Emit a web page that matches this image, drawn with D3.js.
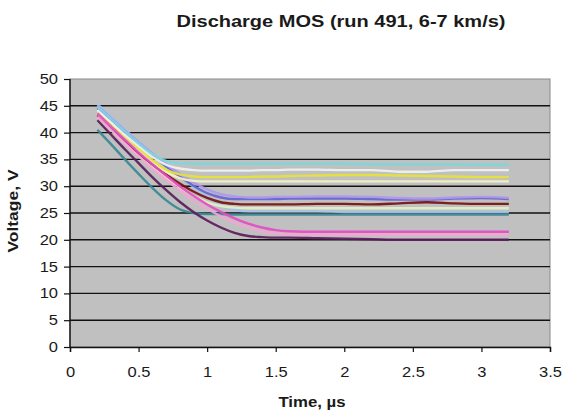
<!DOCTYPE html>
<html>
<head>
<meta charset="utf-8">
<script src="https://cdn.jsdelivr.net/npm/d3@7"></script>
<style>
    body { margin: 0; background: #fff; }
    text { font-family: Arial, "Liberation Sans", sans-serif; fill: #1a1a1a; }
</style>
</head>
<body>
<svg id="chart" width="567" height="412"></svg>
<script>
var chartTitle = "Discharge MOS (run 491, 6-7 km/s)";
var xLabel = "Time, \u00b5s";
var yLabel = "Voltage, V";

var xTicks = [0, 0.5, 1, 1.5, 2, 2.5, 3, 3.5];
var yTicks = [0, 5, 10, 15, 20, 25, 30, 35, 40, 45, 50];

// sample times (µs)
var times = [0.2, 0.3, 0.4, 0.5, 0.6, 0.7, 0.8, 0.9, 1.0, 1.1, 1.2, 1.3, 1.4, 1.5, 1.6, 1.8, 2.0, 2.2, 2.4, 2.6, 2.8, 3.0, 3.2];

// voltages, one array per trace
var teal      = [40.5, 37.8, 35.0, 32.3, 29.7, 27.4, 25.7, 25.0, 24.8, 24.8, 24.7, 24.7, 24.7, 24.7, 24.7, 24.7, 24.7, 24.7, 24.7, 24.7, 24.7, 24.7, 24.7];
var paleBlue  = [45.3, 43.0, 40.6, 38.3, 36.1, 34.0, 31.9, 29.9, 28.0, 26.5, 25.6, 25.3, 25.3, 25.3, 25.3, 25.3, 25.2, 25.2, 25.2, 25.2, 25.2, 25.2, 25.2];
var paleGreen = [43.0, 40.5, 38.1, 35.8, 33.7, 31.7, 29.8, 28.2, 27.0, 26.3, 26.0, 25.9, 25.9, 25.9, 25.9, 25.9, 25.9, 25.9, 25.9, 25.9, 25.9, 25.9, 25.9];
var darkRed   = [43.2, 40.8, 38.5, 36.2, 34.1, 32.2, 30.5, 29.0, 27.8, 27.0, 26.7, 26.6, 26.6, 26.6, 26.6, 26.7, 26.7, 26.6, 26.8, 27.0, 26.8, 26.7, 26.7];
var blue      = [44.6, 42.3, 40.0, 37.8, 35.7, 33.7, 31.8, 30.1, 28.7, 27.9, 27.6, 27.6, 27.6, 27.6, 27.7, 27.7, 27.7, 27.6, 27.5, 27.5, 27.7, 27.8, 27.6];
var lavender  = [45.0, 42.7, 40.4, 38.2, 36.1, 34.1, 32.3, 30.7, 29.4, 28.5, 28.1, 27.9, 27.9, 28.0, 28.0, 28.1, 28.1, 28.0, 27.8, 27.7, 27.9, 28.0, 27.8];
var ltYellow  = [43.6, 41.2, 38.9, 36.6, 34.5, 32.7, 31.5, 31.0, 30.9, 30.9, 30.9, 30.9, 30.9, 30.9, 30.9, 30.9, 30.9, 30.9, 30.9, 30.9, 30.9, 30.9, 30.9];
var yellow    = [44.0, 41.6, 39.3, 37.0, 34.9, 33.1, 32.2, 31.8, 31.7, 31.7, 31.7, 31.7, 31.8, 31.8, 31.9, 32.0, 32.1, 32.1, 32.0, 31.9, 31.8, 31.7, 31.7];
var white     = [44.2, 41.9, 39.6, 37.5, 35.5, 34.0, 33.3, 33.0, 32.9, 32.9, 32.9, 32.9, 33.0, 33.0, 33.1, 33.1, 33.0, 33.0, 32.7, 32.7, 33.0, 33.0, 33.0];
var cyan      = [44.8, 42.5, 40.2, 38.0, 36.0, 34.7, 34.3, 34.2, 34.2, 34.2, 34.2, 34.2, 34.2, 34.2, 34.2, 34.2, 34.2, 34.1, 34.1, 34.1, 34.1, 34.0, 34.0];
var ltPink    = [43.0, 40.5, 38.0, 35.6, 33.3, 31.2, 29.2, 27.4, 25.8, 24.4, 23.2, 22.3, 21.6, 21.2, 21.0, 21.0, 21.0, 21.0, 21.0, 21.0, 21.0, 21.0, 21.0];
var magenta   = [43.6, 41.1, 38.7, 36.3, 34.1, 32.0, 30.0, 28.2, 26.6, 25.2, 24.0, 23.0, 22.3, 21.8, 21.6, 21.5, 21.5, 21.5, 21.5, 21.5, 21.5, 21.5, 21.5];
var darkPurple= [42.3, 39.6, 36.9, 34.3, 31.7, 29.3, 27.1, 25.2, 23.6, 22.3, 21.3, 20.7, 20.5, 20.4, 20.4, 20.3, 20.2, 20.1, 20.0, 20.0, 20.0, 20.0, 20.0];

var seriesValues = [teal, paleBlue, paleGreen, darkRed, blue, lavender, ltYellow, yellow, white, cyan, ltPink, magenta, darkPurple];
var seriesColors = ["#3a8894", "#a4c4ec", "#e2f0c6", "#7a1010", "#6464d4", "#ae98ea", "#f2f2c4", "#e6e23a", "#eef2f0", "#7cd8dc", "#f2a6d4", "#e44cc6", "#5c1c5c"];

var svg = d3.select("#chart");
var plot = { left: 70, right: 550, top: 79, bottom: 347 };
var stretch = 1.18; // the source fonts are wide

var x = d3.scaleLinear().domain([0, 3.5]).range([plot.left, plot.right]);
var y = d3.scaleLinear().domain([0, 50]).range([plot.bottom, plot.top]);

svg.append("rect")
    .attr("x", plot.left).attr("y", plot.top)
    .attr("width", plot.right - plot.left).attr("height", plot.bottom - plot.top)
    .attr("fill", "#c0c0c0")
    .attr("stroke", "#8a8a8a")
    .attr("stroke-width", 1);

// horizontal gridlines
svg.append("g")
    .selectAll("line")
    .data(yTicks.filter(function(d) { return d > 0 && d < 50; }))
    .enter().append("line")
    .attr("x1", plot.left).attr("x2", plot.right)
    .attr("y1", function(d) { return y(d); })
    .attr("y2", function(d) { return y(d); })
    .attr("stroke", "#111")
    .attr("stroke-width", 1.4);

var line = d3.line()
    .x(function(d) { return x(d[0]); })
    .y(function(d) { return y(d[1]); })
    .curve(d3.curveMonotoneX);

svg.append("g")
    .selectAll("path")
    .data(seriesValues)
    .enter().append("path")
    .attr("d", function(vals) { return line(times.map(function(t, i) { return [t, vals[i]]; })); })
    .attr("fill", "none")
    .attr("stroke", function(d, i) { return seriesColors[i]; })
    .attr("stroke-width", 2.4)
    .attr("stroke-linejoin", "round")
    .attr("opacity", 0.92);

var xAxis = d3.axisBottom(x).tickValues(xTicks).tickSize(5).tickPadding(15)
    .tickFormat(function(d) { return d; });
var yAxis = d3.axisLeft(y).tickValues(yTicks).tickSize(6).tickPadding(6);

var gx = svg.append("g").attr("transform", "translate(0," + plot.bottom + ")").call(xAxis);
var gy = svg.append("g").attr("transform", "translate(" + plot.left + ",0)").call(yAxis);

[gx, gy].forEach(function(g)
{
    g.select(".domain").attr("stroke", "#111").attr("stroke-width", 1.4);
    g.selectAll(".tick line").attr("stroke", "#111").attr("stroke-width", 1.2);
    g.selectAll(".tick text").attr("font-size", 14).attr("fill", "#1a1a1a")
        .style("font-family", "Arial, 'Liberation Sans', sans-serif")
        .attr("transform", "scale(" + stretch + ",1)");
});
gy.selectAll(".tick text").attr("x", -12 / stretch);
gy.select(".domain").attr("d", "M0," + plot.bottom + "V" + plot.top);

svg.append("text")
    .attr("transform", "translate(341,27) scale(1.25,1)")
    .attr("text-anchor", "middle")
    .attr("font-size", 16).attr("font-weight", "bold")
    .text(chartTitle);

svg.append("text")
    .attr("transform", "translate(312,407) scale(1.2,1)")
    .attr("text-anchor", "middle")
    .attr("font-size", 14).attr("font-weight", "bold")
    .text(xLabel);

svg.append("text")
    .attr("transform", "translate(18,211) rotate(-90) scale(1.25,1)")
    .attr("text-anchor", "middle")
    .attr("font-size", 14).attr("font-weight", "bold")
    .text(yLabel);
</script>
</body>
</html>
